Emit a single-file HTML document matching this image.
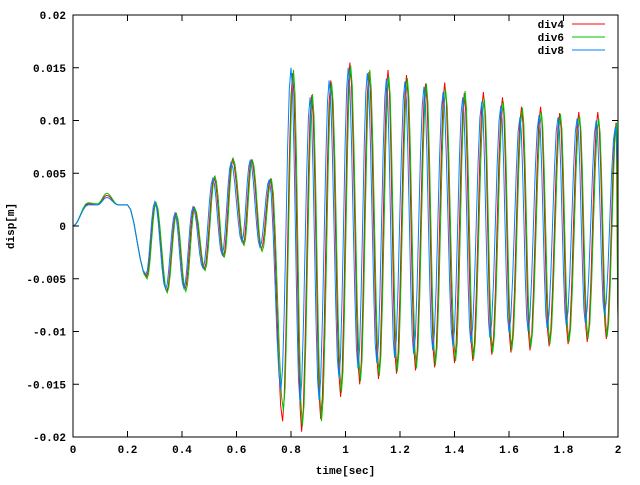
<!DOCTYPE html>
<html><head><meta charset="utf-8"><style>
html,body{margin:0;padding:0;background:#fff;}
svg text{font-family:"Liberation Mono","DejaVu Sans Mono",monospace;font-weight:bold;font-size:11px;fill:#000;}
</style></head><body>
<svg id="chart" width="640" height="480" xmlns="http://www.w3.org/2000/svg">
<g id="grid"></g><g id="series"></g><g id="axes"></g>
</svg>
<script>
const xTicks=[0,0.2,0.4,0.6,0.8,1,1.2,1.4,1.6,1.8,2];
const xTickLabels=["0","0.2","0.4","0.6","0.8","1","1.2","1.4","1.6","1.8","2"];
const yTicks=[-0.02,-0.015,-0.01,-0.005,0,0.005,0.01,0.015,0.02];
const yTickLabels=["-0.02","-0.015","-0.01","-0.005","0","0.005","0.01","0.015","0.02"];
const seriesNames=["div4","div6","div8"];
const t8=[0,0.055,0.09,0.124,0.166,0.20,0.268,0.30,0.34,0.374,0.407,0.44,0.477,0.513,0.547,0.58,0.62,0.65,0.686,0.72,0.763,0.80,0.833,0.87,0.903,0.94,0.976,1.01,1.046,1.08,1.115,1.15,1.18,1.218,1.25,1.288,1.32,1.358,1.394,1.43,1.46,1.50,1.53,1.57,1.60,1.64,1.67,1.71,1.74,1.78,1.81,1.85,1.88,1.92,1.95,1.99,2.0];
const v8=[0,0.002,0.002,0.0027,0.002,0.002,-0.0046,0.0023,-0.006,0.0012,-0.0059,0.0018,-0.004,0.0045,-0.0027,0.006,-0.0015,0.0062,-0.002,0.0044,-0.0155,0.015,-0.0167,0.0122,-0.0165,0.0138,-0.0144,0.015,-0.0135,0.0145,-0.013,0.014,-0.0125,0.0137,-0.0121,0.0132,-0.0118,0.0127,-0.0114,0.0122,-0.0111,0.0118,-0.0106,0.0114,-0.0101,0.0103,-0.01,0.0105,-0.0097,0.0103,-0.0094,0.0102,-0.0092,0.01,-0.0084,0.0094,0.006];
const t6=[0,0.055,0.09,0.124,0.166,0.20,0.272,0.305,0.346,0.38,0.414,0.447,0.485,0.521,0.555,0.588,0.628,0.658,0.694,0.728,0.772,0.809,0.842,0.879,0.912,0.949,0.985,1.019,1.055,1.089,1.124,1.159,1.19,1.227,1.26,1.297,1.33,1.367,1.404,1.439,1.47,1.509,1.54,1.579,1.61,1.649,1.68,1.719,1.75,1.789,1.82,1.859,1.89,1.929,1.96,1.995,2.0];
const v6=[0,0.0022,0.0021,0.0031,0.002,0.002,-0.005,0.0022,-0.0063,0.0011,-0.0062,0.0017,-0.0042,0.0047,-0.003,0.0064,-0.0018,0.0063,-0.0024,0.0045,-0.0175,0.0148,-0.019,0.0125,-0.0185,0.0136,-0.0158,0.0152,-0.0147,0.0148,-0.0142,0.0142,-0.0138,0.014,-0.0135,0.0135,-0.0132,0.013,-0.0128,0.0128,-0.0126,0.0121,-0.012,0.0118,-0.0118,0.0112,-0.0115,0.0108,-0.0112,0.0106,-0.011,0.0104,-0.0107,0.0102,-0.0105,0.0098,-0.009];
const t4=[0,0.055,0.09,0.124,0.166,0.20,0.27,0.303,0.344,0.378,0.411,0.444,0.482,0.518,0.552,0.585,0.625,0.655,0.691,0.725,0.769,0.806,0.839,0.876,0.909,0.946,0.982,1.016,1.052,1.086,1.121,1.156,1.187,1.224,1.257,1.294,1.327,1.364,1.4,1.436,1.467,1.506,1.537,1.576,1.607,1.646,1.677,1.716,1.747,1.786,1.817,1.856,1.887,1.926,1.957,1.993,2.0];
const v4=[0,0.0021,0.002,0.0029,0.002,0.002,-0.0048,0.0022,-0.0062,0.0012,-0.006,0.0018,-0.0041,0.0046,-0.0029,0.0063,-0.0017,0.0063,-0.0022,0.0045,-0.0185,0.0145,-0.0195,0.0124,-0.0183,0.0138,-0.0162,0.0155,-0.015,0.0146,-0.0145,0.0148,-0.014,0.0143,-0.0137,0.0135,-0.0134,0.0136,-0.013,0.0126,-0.0128,0.0127,-0.0122,0.0122,-0.012,0.0113,-0.0118,0.0113,-0.0114,0.0107,-0.0112,0.0108,-0.011,0.0108,-0.0107,0.0098,-0.0085];
const L=73,R=618,T=15,B=437;
const X=t=>L+(t-0)/(2-0)*(R-L);
const Y=v=>B-(v+0.02)/0.04*(B-T);
const NS="http://www.w3.org/2000/svg";
function mk(tag,parent,attrs){const e=document.createElementNS(NS,tag);for(const k in attrs)e.setAttribute(k,attrs[k]);parent.appendChild(e);return e;}
const axes=document.getElementById('axes');
const series=document.getElementById('series');
function pathFor(ts,vs){let d="M"+X(ts[0]).toFixed(1)+","+Y(vs[0]).toFixed(1);
 for(let i=1;i<ts.length;i++){const a=vs[i-1],b=vs[i];const n=6;
  for(let k=1;k<=n;k++){const s=k/n;const t=ts[i-1]+(ts[i]-ts[i-1])*s;const v=a+(b-a)*(1-Math.cos(Math.PI*s))/2;d+="L"+X(t).toFixed(1)+","+Y(v).toFixed(1);}}
 return d;}
const data=[[t4,v4,"#ff0000"],[t6,v6,"#00c000"],[t8,v8,"#0080ff"]];
data.forEach((s,i)=>{const p=mk('path',series,{d:pathFor(s[0],s[1]),fill:"none",stroke:s[2],"stroke-width":1});

});
// frame
const fr=mk('rect',axes,{x:L,y:T,width:R-L,height:B-T,fill:"none",stroke:"#000","stroke-width":1});


xTicks.forEach((v,i)=>{const x=X(v);
 mk('line',axes,{x1:x,y1:B,x2:x,y2:B-6,stroke:"#000"});
 mk('line',axes,{x1:x,y1:T,x2:x,y2:T+6,stroke:"#000"});
 const tx=mk('text',axes,{x:x,y:B+16,"text-anchor":"middle"});tx.textContent=xTickLabels[i];
 
 });
yTicks.forEach((v,i)=>{const y=Y(v);
 mk('line',axes,{x1:L,y1:y,x2:L+6,y2:y,stroke:"#000"});
 mk('line',axes,{x1:R,y1:y,x2:R-6,y2:y,stroke:"#000"});
 const tx=mk('text',axes,{x:66,y:y+4,"text-anchor":"end"});tx.textContent=yTickLabels[i];
 
 });
const xt=mk('text',axes,{x:(L+R)/2,y:474,"text-anchor":"middle"});xt.textContent="time[sec]";


const yt=mk('text',axes,{x:14,y:226,"text-anchor":"middle",transform:"rotate(-90 14 226)"});yt.textContent="disp[m]";


data.forEach((s,i)=>{const y=24+i*13;
 const g=mk('g',axes,{});
 
 
 const tx=mk('text',g,{x:564,y:y+4,"text-anchor":"end"});tx.textContent=seriesNames[i];
 mk('line',g,{x1:572,y1:y,x2:605,y2:y,stroke:s[2]});});
</script>
</body></html>
